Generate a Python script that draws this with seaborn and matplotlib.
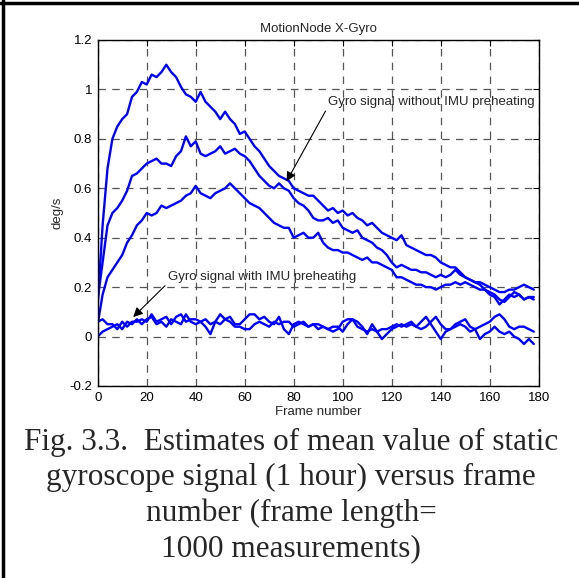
import numpy as np
import pandas as pd
import matplotlib
matplotlib.use("Agg")
import matplotlib.pyplot as plt
from matplotlib.lines import Line2D
import seaborn as sns

# ---------------- data ----------------
frames = list(range(0, 180, 2))

no_preheat_1 = [0.13, 0.45, 0.68, 0.80, 0.85, 0.88, 0.90, 0.97, 0.99, 1.03,
                1.02, 1.06, 1.05, 1.07, 1.10, 1.07, 1.05, 1.01, 0.98, 0.97,
                0.95, 0.99, 0.95, 0.93, 0.91, 0.88, 0.91, 0.88, 0.86, 0.82,
                0.83, 0.80, 0.77, 0.75, 0.72, 0.69, 0.67, 0.65, 0.64, 0.63,
                0.60, 0.59, 0.58, 0.57, 0.57, 0.55, 0.53, 0.51, 0.52, 0.50,
                0.51, 0.49, 0.50, 0.48, 0.47, 0.45, 0.46, 0.44, 0.42, 0.41,
                0.40, 0.39, 0.41, 0.37, 0.36, 0.35, 0.34, 0.33, 0.33, 0.32,
                0.30, 0.29, 0.28, 0.28, 0.26, 0.24, 0.23, 0.22, 0.22, 0.21,
                0.20, 0.19, 0.18, 0.18, 0.19, 0.19, 0.20, 0.21, 0.20, 0.19]

no_preheat_2 = [0.15, 0.30, 0.45, 0.50, 0.52, 0.55, 0.59, 0.65, 0.66, 0.68,
                0.70, 0.71, 0.72, 0.70, 0.70, 0.69, 0.73, 0.75, 0.81, 0.77,
                0.79, 0.74, 0.73, 0.74, 0.75, 0.77, 0.74, 0.75, 0.76, 0.74,
                0.73, 0.71, 0.68, 0.65, 0.63, 0.61, 0.60, 0.62, 0.60, 0.59,
                0.56, 0.54, 0.53, 0.51, 0.48, 0.47, 0.47, 0.48, 0.46, 0.47,
                0.44, 0.43, 0.42, 0.43, 0.40, 0.39, 0.38, 0.36, 0.35, 0.33,
                0.30, 0.28, 0.29, 0.28, 0.27, 0.27, 0.26, 0.26, 0.25, 0.24,
                0.25, 0.24, 0.25, 0.27, 0.25, 0.24, 0.23, 0.22, 0.21, 0.19,
                0.17, 0.16, 0.13, 0.15, 0.17, 0.16, 0.17, 0.15, 0.16, 0.16]

no_preheat_3 = [0.05, 0.17, 0.24, 0.27, 0.30, 0.33, 0.38, 0.41, 0.45, 0.47,
                0.50, 0.49, 0.50, 0.53, 0.52, 0.53, 0.54, 0.55, 0.57, 0.58,
                0.61, 0.58, 0.57, 0.56, 0.58, 0.59, 0.60, 0.62, 0.60, 0.58,
                0.56, 0.54, 0.53, 0.52, 0.50, 0.48, 0.46, 0.45, 0.44, 0.44,
                0.40, 0.41, 0.42, 0.40, 0.40, 0.42, 0.38, 0.36, 0.35, 0.35,
                0.34, 0.34, 0.33, 0.32, 0.31, 0.32, 0.30, 0.30, 0.29, 0.28,
                0.27, 0.24, 0.24, 0.23, 0.22, 0.21, 0.21, 0.20, 0.20, 0.19,
                0.20, 0.21, 0.21, 0.22, 0.21, 0.22, 0.21, 0.20, 0.19, 0.19,
                0.18, 0.17, 0.15, 0.14, 0.16, 0.18, 0.17, 0.15, 0.16, 0.15]

preheat_1 = [0.06, 0.07, 0.05, 0.05, 0.03, 0.06, 0.04, 0.06, 0.06, 0.07,
             0.06, 0.09, 0.06, 0.07, 0.08, 0.05, 0.08, 0.09, 0.06, 0.07,
             0.07, 0.06, 0.04, 0.01, 0.06, 0.09, 0.07, 0.08, 0.05, 0.05,
             0.07, 0.09, 0.09, 0.07, 0.08, 0.06, 0.05, 0.08, 0.03, 0.01,
             0.05, 0.06, 0.05, 0.04, 0.05, 0.03, 0.04, 0.03, 0.02, 0.03,
             0.06, 0.07, 0.07, 0.06, 0.04, 0.01, 0.05, 0.02, -0.01, 0.01,
             0.03, 0.04, 0.05, 0.04, 0.05, 0.04, 0.06, 0.08, 0.05, 0.02,
             -0.01, 0.02, 0.03, 0.05, 0.06, 0.07, 0.04, 0.03, -0.01, 0.01,
             0.02, 0.04, 0.02, 0.01, 0.02, 0.00, -0.01, -0.03, -0.01, -0.03]

preheat_2 = [0.00, 0.02, 0.03, 0.04, 0.05, 0.03, 0.06, 0.05, 0.07, 0.05,
             0.07, 0.08, 0.05, 0.06, 0.04, 0.07, 0.06, 0.05, 0.09, 0.06,
             0.05, 0.06, 0.07, 0.05, 0.06, 0.05, 0.07, 0.06, 0.04, 0.04,
             0.03, 0.03, 0.05, 0.06, 0.05, 0.04, 0.06, 0.05, 0.06, 0.06,
             0.04, 0.05, 0.06, 0.04, 0.05, 0.05, 0.04, 0.03, 0.04, 0.04,
             0.02, 0.05, 0.07, 0.04, 0.03, 0.02, 0.03, 0.02, 0.03, 0.03,
             0.04, 0.05, 0.04, 0.05, 0.06, 0.04, 0.03, 0.04, 0.06, 0.08,
             0.05, 0.03, 0.03, 0.04, 0.05, 0.04, 0.02, 0.03, 0.04, 0.05,
             0.06, 0.08, 0.09, 0.07, 0.04, 0.03, 0.04, 0.04, 0.03, 0.02]

series_names = ["no_preheat_1", "no_preheat_2", "no_preheat_3",
                "preheat_1", "preheat_2"]
series_values = [no_preheat_1, no_preheat_2, no_preheat_3, preheat_1, preheat_2]

x_ticks = [0, 20, 40, 60, 80, 100, 120, 140, 160, 180]
y_ticks = [-0.2, 0, 0.2, 0.4, 0.6, 0.8, 1, 1.2]
y_tick_labels = ["-0.2", "0", "0.2", "0.4", "0.6", "0.8", "1", "1.2"]

title = "MotionNode X-Gyro"
x_label = "Frame number"
y_label = "deg/s"
note_without = "Gyro signal without IMU preheating"
note_with = "Gyro signal with IMU preheating"
caption = ("Fig. 3.3.  Estimates of mean value of static\n"
           "gyroscope signal (1 hour) versus frame\n"
           "number (frame length=\n"
           "1000 measurements)")

# ---------------- build long table ----------------
rows = []
for name, vals in zip(series_names, series_values):
    for f, v in zip(frames, vals):
        rows.append({"frame": f, "value": v, "series": name})
df = pd.DataFrame(rows)

# ---------------- plotting ----------------
sns.set_style("white")
plt.rcParams["font.family"] = ["Liberation Sans", "DejaVu Sans"]

fig = plt.figure(figsize=(5.79, 5.78), dpi=100)
W, H = 579, 578
ax = fig.add_axes([97.7 / W, 1 - 386 / H, (538.7 - 97.7) / W, (386 - 40) / H])

sns.lineplot(data=df, x="frame", y="value", hue="series", units="series",
             estimator=None, palette=["#0000FF"] * 5, linewidth=1.7,
             legend=False, ax=ax, sort=False)

ax.set_xlim(0, 180)
ax.set_ylim(-0.2, 1.2)
ax.set_xticks(x_ticks)
ax.set_xticklabels([str(t) for t in x_ticks])
ax.set_yticks(y_ticks)
ax.set_yticklabels(y_tick_labels)
ax.tick_params(direction="in", top=True, right=True, length=4, width=0.8,
               labelsize=9.5, pad=4, colors="black")
ax.grid(True, color="#555555", linestyle=(0, (6, 5)), linewidth=0.9)
for sp in ax.spines.values():
    sp.set_visible(True)
    sp.set_color("black")
    sp.set_linewidth(1.0)

ax.set_title(title, fontsize=9.5, pad=6)
ax.set_xlabel(x_label, fontsize=9.5, labelpad=2)
ax.set_ylabel(y_label, fontsize=9.5, labelpad=4)

ax.annotate(note_without, xy=(77.1, 0.628), xytext=(94.0, 0.95),
            fontsize=9.5, ha="left", va="center",
            arrowprops=dict(arrowstyle="-|>", color="black", lw=0.8,
                            mutation_scale=14, shrinkA=0, shrinkB=0,
                            relpos=(0, 0.1)))
ax.annotate(note_with, xy=(14.5, 0.079), xytext=(28.8, 0.243),
            fontsize=9.5, ha="left", va="center",
            arrowprops=dict(arrowstyle="-|>", color="black", lw=0.8,
                            mutation_scale=14, shrinkA=0, shrinkB=0,
                            relpos=(0, 0)))

fig.text(0.503, 1 - 428 / H, caption, ha="center", va="top",
         fontsize=22.5, family=["Liberation Serif", "DejaVu Serif"],
         linespacing=1.28)

# page border (top and left)
fig.add_artist(Line2D([0, 1], [1 - 2.5 / H, 1 - 2.5 / H], color="black",
                      lw=2.5, transform=fig.transFigure))
fig.add_artist(Line2D([2.5 / W, 2.5 / W], [0, 1], color="black",
                      lw=2.5, transform=fig.transFigure))

fig.savefig("out.png", dpi=100)
